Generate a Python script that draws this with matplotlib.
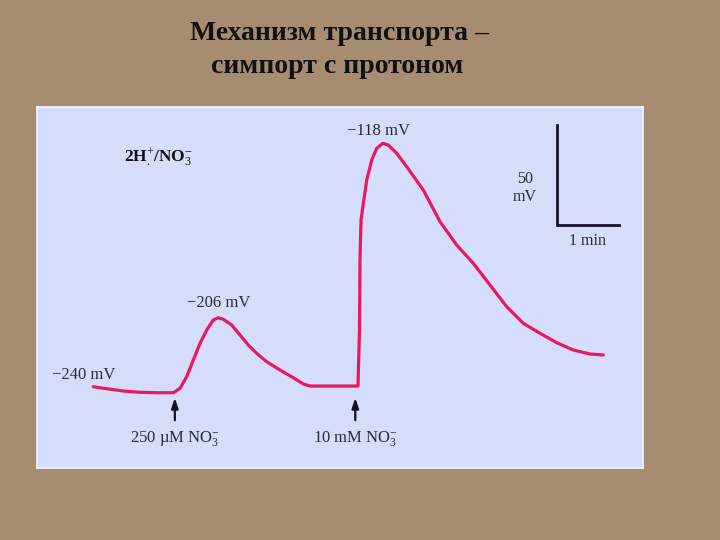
import matplotlib
matplotlib.use('Agg')
import matplotlib.pyplot as plt

plt.rcParams['font.family'] = ['Liberation Serif', 'DejaVu Serif']
plt.rcParams['mathtext.fontset'] = 'custom'
plt.rcParams['mathtext.rm'] = 'Liberation Serif'
plt.rcParams['mathtext.it'] = 'Liberation Serif:italic'
plt.rcParams['mathtext.bf'] = 'Liberation Serif:bold'

# время (мин) и мембранный потенциал (мВ)
time_min = [0.005, 0.221, 0.489, 0.758, 1.027, 1.295, 1.403, 1.511, 1.618,
            1.726, 1.834, 1.940, 2.021, 2.102, 2.237, 2.371, 2.505, 2.640,
            2.802, 3.016, 3.231, 3.392, 3.500, 4.274, 4.298, 4.306, 4.323,
            4.360, 4.415, 4.495, 4.576, 4.673, 4.763, 4.898, 5.060, 5.327,
            5.597, 5.866, 6.134, 6.403, 6.673, 6.940, 7.210, 7.479, 7.747,
            8.016, 8.231]
potential_mv = [-240.35, -241.35, -242.5, -243.15, -243.35, -243.35, -241.15,
                -235.35, -227.0, -218.65, -212.0, -207.0, -205.85, -206.65,
                -209.5, -214.5, -219.5, -223.65, -227.85, -232.0, -235.85,
                -239.0, -240.0, -240.0, -212.0, -177.0, -157.0, -148.65,
                -137.0, -127.0, -121.15, -118.65, -119.5, -123.65, -130.35,
                -142.0, -157.85, -169.5, -178.65, -189.5, -200.35, -208.65,
                -213.65, -218.35, -222.0, -224.0, -224.5]

peak_labels = ['\u2212240 mV', '\u2212206 mV', '\u2212118 mV']
peak_pos = [(-0.66, -234.5), (2.02, -198.5), (4.61, -112.5)]
arrow_times = [1.32, 4.23]
arrow_labels = ['250 \u00b5M NO$_3^{\u2212}$', '10 mM NO$_3^{\u2212}$']

fig = plt.figure(figsize=(7.2, 5.4), dpi=100)
fig.patch.set_facecolor('#a68d71')

fig.text(0.471, 0.938, 'Механизм транспорта \u2013', ha='center', va='center',
         fontsize=20, fontweight='bold', color='#111111')
fig.text(0.469, 0.876, 'симпорт с протоном', ha='center', va='center',
         fontsize=20, fontweight='bold', color='#111111')

ax = fig.add_axes([0.0514, 0.1333, 0.8417, 0.6685])
ax.set_facecolor('#d5ddfa')
for s in ax.spines.values():
    s.set_color('#f4f4ff')
    s.set_linewidth(1.2)
ax.set_xticks([])
ax.set_yticks([])
ax.set_xlim(-0.903, 8.871)
ax.set_ylim(-281, -100.5)

ax.plot(time_min, potential_mv, color='#e8195e', lw=2.3, solid_capstyle='round',
        solid_joinstyle='round')

ax.text(peak_pos[0][0], peak_pos[0][1], peak_labels[0], ha='left', va='center',
        fontsize=12, color='#2a2a3a')
for lab, (x, y) in zip(peak_labels[1:], peak_pos[1:]):
    ax.text(x, y, lab, ha='center', va='center', fontsize=12, color='#2a2a3a')

for t, lab in zip(arrow_times, arrow_labels):
    ax.annotate('', xy=(t, -244.5), xytext=(t, -258.5),
                arrowprops=dict(arrowstyle='-|>,head_width=0.2,head_length=0.6',
                                color='#111122', lw=1.6))
    ax.text(t, -266, lab, ha='center', va='center', fontsize=12, color='#2a2a3a')

ax.text(0.5, -125.5, r'$\mathbf{2H}^{+}_{.}\mathbf{/NO}_{3}^{-}$', ha='left',
        va='center', fontsize=12.5, color='#111111')

# масштабная линейка
ax.plot([7.484, 7.484, 8.484], [-109.5, -159.5, -159.5], color='#15152a', lw=2,
        solid_joinstyle='miter')
ax.text(6.97, -141, '50\nmV', ha='center', va='center', fontsize=11.5,
        color='#2a2a3a', linespacing=1.1)
ax.text(7.98, -167.5, '1 min', ha='center', va='center', fontsize=11.5,
        color='#2a2a3a')

fig.savefig('out.png', dpi=100, facecolor=fig.get_facecolor())
